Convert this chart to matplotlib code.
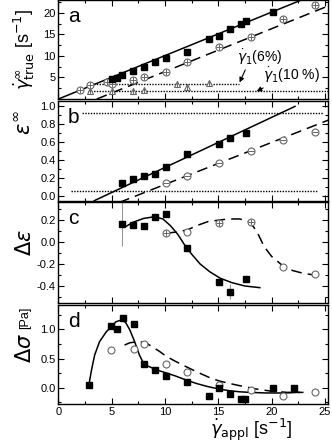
import matplotlib
matplotlib.use("Agg")
import matplotlib.pyplot as plt
from matplotlib.ticker import MultipleLocator, FixedLocator, FormatStrFormatter

plt.rcParams["font.family"] = ["Liberation Sans", "DejaVu Sans"]
plt.rcParams["mathtext.fontset"] = "dejavusans"

# ── panel a : true shear rate ───────────────────────────────────
a_sq_x = [5.0, 5.5, 6.0, 7.0, 8.0, 9.05, 10.05, 12.1, 14.1, 15.1, 16.1, 17.1, 17.6, 20.15]
a_sq_y = [4.7, 4.9, 5.5, 6.5, 7.4, 8.7, 9.5, 11.0, 14.0, 14.6, 16.3, 17.4, 18.2, 20.3]
a_ci_x = [2.0, 3.0, 4.6, 5.0, 7.0, 8.0, 10.05, 12.1, 15.1, 18.1, 21.1, 24.06]
a_ci_y = [2.2, 3.2, 4.0, 3.6, 4.4, 5.0, 6.2, 8.5, 12.1, 14.4, 18.7, 21.9]
a_tr_x = [3.0, 5.0, 7.0, 8.0, 11.1, 12.1, 14.1]
a_tr_y = [1.8, 1.8, 1.8, 2.2, 3.6, 2.9, 3.8]
a_yticks = [5, 10, 15, 20]
a_fit_solid = ([0.0, 23.0], [0.0, 23.2])
a_fit_dash = ([3.6, 25.3], [0.0, 21.6])
a_dot6 = ([2.8, 16.9], [3.5, 3.5])
a_dot10 = ([2.8, 25.3], [1.8, 1.8])

# ── panel b : strain ────────────────────────────────────────────
b_sq_x = [6.0, 7.0, 8.0, 9.05, 10.05, 12.1, 15.1, 16.1, 17.6]
b_sq_y = [0.15, 0.195, 0.225, 0.25, 0.32, 0.47, 0.58, 0.65, 0.70]
b_ci_x = [10.05, 12.1, 15.1, 18.1, 21.1, 24.06]
b_ci_y = [0.15, 0.225, 0.375, 0.505, 0.63, 0.72]
b_fit_solid = ([3.36, 22.2], [-0.05, 1.0])
b_fit_dash = ([5.7, 25.6], [-0.07, 0.86])
b_dot_hi = ([2.2, 24.8], [0.93, 0.93])
b_dot_lo = ([1.2, 24.4], [0.06, 0.06])

# ── panel c : delta epsilon ────────────────────────────────────
c_sq_x = [6.0, 7.0, 8.0, 9.05, 10.05, 12.1, 15.1, 16.1, 17.6]
c_sq_y = [0.165, 0.155, 0.145, 0.225, 0.255, -0.05, -0.36, -0.45, -0.34]
c_sq_err = [0.2, 0, 0, 0, 0, 0, 0, 0.065, 0]
c_cp_x = [10.05, 15.1, 18.1]
c_cp_y = [0.08, 0.17, 0.185]
c_ci_x = [12.1, 21.1, 24.06]
c_ci_y = [0.095, -0.225, -0.29]
c_curve_solid_x = [6.3, 7.0, 8.0, 9.0, 9.8, 10.5, 11.2, 11.8, 12.5, 13.3, 14.2, 15.2, 16.3, 17.5, 18.9]
c_curve_solid_y = [0.14, 0.18, 0.215, 0.23, 0.21, 0.15, 0.07, -0.02, -0.11, -0.2, -0.27, -0.33, -0.37, -0.40, -0.415]
c_curve_dash_x = [10.1, 11.0, 12.1, 13.0, 14.0, 15.1, 16.0, 17.0, 17.8, 18.3, 18.8, 19.3, 20.0,
                  21.1, 22.0, 23.0, 24.0, 24.9]
c_curve_dash_y = [0.08, 0.09, 0.11, 0.15, 0.185, 0.2, 0.21, 0.21, 0.19, 0.14, 0.06, -0.04, -0.13,
                  -0.22, -0.26, -0.285, -0.30, -0.31]

# ── panel d : delta sigma ──────────────────────────────────────
d_sq_x = [2.86, 4.95, 5.5, 6.05, 7.05, 8.0, 9.05, 10.05, 12.1, 14.1, 15.1, 16.1, 17.1, 17.5, 20.15, 22.1]
d_sq_y = [0.05, 1.06, 1.0, 1.2, 1.1, 0.40, 0.30, 0.20, 0.10, -0.15, 0.0, -0.10, -0.20, -0.20, 0.0, 0.0]
d_ci_x = [4.95, 7.05, 8.0, 10.05, 12.1, 15.1, 18.1, 21.1, 24.06]
d_ci_y = [0.645, 0.66, 0.75, 0.40, 0.265, 0.045, -0.04, -0.15, -0.08]
d_ci_err = [0, 0, 0, 0.06, 0, 0, 0, 0, 0]
d_curve_solid_x = [2.86, 3.1, 3.4, 3.86, 4.5, 4.95, 5.4, 5.9, 6.3, 6.7, 7.15, 7.6, 7.9, 8.4, 9.3,
                   10.0, 11.0, 12.0, 13.0, 14.0, 15.0, 16.0, 17.0, 18.0, 19.5, 21.0, 22.6]
d_curve_solid_y = [0.05, 0.30, 0.56, 0.79, 0.96, 1.04, 1.13, 1.16, 1.12, 0.99, 0.79, 0.56, 0.45, 0.37, 0.30,
                   0.26, 0.20, 0.13, 0.07, 0.02, -0.02, -0.05, -0.07, -0.08, -0.09, -0.09, -0.08]
d_curve_dash_x = [6.2, 6.7, 7.5, 8.2, 8.9, 9.5, 10.1, 11.0, 12.1, 13.0, 14.1, 15.0, 16.0, 17.0,
                  18.5, 20.0, 21.5, 23.0]
d_curve_dash_y = [0.73, 0.77, 0.79, 0.77, 0.69, 0.62, 0.54, 0.45, 0.35, 0.27, 0.18, 0.12, 0.075, 0.035,
                  -0.02, -0.06, -0.08, -0.08]

GRAY = "#666666"
DASH = (0, (7, 4))
DOT = (0, (1, 1))
SQ = dict(marker="s", ms=4.5, color="black", ls="none", zorder=4)


def open_pts(ax, x, y, marker="o", inner=None, ms=5):
    ax.plot(x, y, ls="none", marker=marker, ms=ms, mfc="white", mec=GRAY, mew=0.8, zorder=3)
    if inner:
        ax.plot(x, y, ls="none", marker=inner, ms=ms, mec=GRAY, mew=0.7, zorder=3)


def style(ax, ylim, major, minor, last=False):
    ax.set_xlim(0, 25.3)
    ax.set_ylim(*ylim)
    ax.xaxis.set_major_locator(MultipleLocator(5))
    ax.xaxis.set_minor_locator(MultipleLocator(2.5))
    ax.yaxis.set_major_locator(MultipleLocator(major))
    ax.yaxis.set_minor_locator(MultipleLocator(minor))
    ax.tick_params(which="both", direction="in", top=True, right=True, labelsize=8, pad=2)
    ax.tick_params(which="major", length=4, width=0.8)
    ax.tick_params(which="minor", length=2, width=0.8)
    if not last:
        ax.tick_params(labelbottom=False)
    for s in ax.spines.values():
        s.set_linewidth(1.0)


fig = plt.figure(figsize=(3.32, 4.45), dpi=100)
L, W = 0.176, 0.812
ax_a = fig.add_axes([L, 0.7775, W, 0.2225])
ax_b = fig.add_axes([L, 0.549, W, 0.224])
ax_c = fig.add_axes([L, 0.319, W, 0.227])
ax_d = fig.add_axes([L, 0.092, W, 0.223])

# a
ax = ax_a
ax.plot(*a_fit_solid, color="black", lw=1.1)
ax.plot(*a_fit_dash, color="black", lw=1.1, ls=DASH)
ax.plot(*a_dot6, color="black", lw=1.0, ls=DOT)
ax.plot(*a_dot10, color="black", lw=1.0, ls=DOT)
open_pts(ax, a_ci_x, a_ci_y, "o", "+")
open_pts(ax, a_tr_x, a_tr_y, "^", "|", ms=5)
ax.plot(a_sq_x, a_sq_y, **SQ)
ax.annotate(r"$\dot{\gamma}_1$(6%)", xy=(17.0, 3.85), xytext=(16.8, 9.7), fontsize=10,
            va="center", arrowprops=dict(arrowstyle="-|>", color="black", lw=0.8,
                                         mutation_scale=7, shrinkA=0, shrinkB=0,
                                         relpos=(0.2, 0.0)))
ax.annotate(r"$\dot{\gamma}_1$(10 %)", xy=(18.6, 1.8), xytext=(19.2, 5.5), fontsize=10,
            va="center", arrowprops=dict(arrowstyle="-|>", color="black", lw=0.8,
                                         mutation_scale=7, shrinkA=0, shrinkB=0,
                                         relpos=(0.1, 0.0)))
style(ax, (0, 23), 5, 2.5)
ax.yaxis.set_major_locator(FixedLocator(a_yticks))
ax.text(-0.125, 0.5, r"$\dot{\gamma}^{\infty}_{\rm true}$ [s$^{-1}$]", transform=ax.transAxes,
        rotation=90, ha="center", va="center", fontsize=13)

# b
ax = ax_b
ax.plot(*b_fit_solid, color="black", lw=1.1)
ax.plot(*b_fit_dash, color="black", lw=1.1, ls=DASH)
ax.plot(*b_dot_hi, color="black", lw=1.0, ls=DOT)
ax.plot(*b_dot_lo, color="black", lw=1.0, ls=DOT)
open_pts(ax, b_ci_x, b_ci_y, "o", "_")
ax.plot(b_sq_x, b_sq_y, **SQ)
style(ax, (-0.05, 1.06), 0.2, 0.1)
ax.yaxis.set_major_formatter(FormatStrFormatter("%.1f"))
ax.text(-0.125, 0.78, r"$\epsilon^{\infty}$", transform=ax.transAxes,
        rotation=90, ha="center", va="center", fontsize=15)

# c
ax = ax_c
ax.plot(c_curve_solid_x, c_curve_solid_y, color="black", lw=1.1)
ax.plot(c_curve_dash_x, c_curve_dash_y, color="black", lw=1.1, ls=DASH)
ax.errorbar(c_sq_x, c_sq_y, yerr=c_sq_err, fmt="none", ecolor="#999999", elinewidth=0.8, zorder=2)
open_pts(ax, c_cp_x, c_cp_y, "o", "+")
open_pts(ax, c_ci_x, c_ci_y, "o")
ax.plot(c_sq_x, c_sq_y, **SQ)
style(ax, (-0.555, 0.364), 0.2, 0.1)
ax.yaxis.set_major_formatter(FormatStrFormatter("%.1f"))
ax.text(-0.125, 0.6, r"$\Delta\epsilon$", transform=ax.transAxes,
        rotation=90, ha="center", va="center", fontsize=15)

# d
ax = ax_d
ax.plot(d_curve_solid_x, d_curve_solid_y, color="black", lw=1.1)
ax.plot(d_curve_dash_x, d_curve_dash_y, color="black", lw=1.1, ls=DASH)
ax.errorbar(d_ci_x, d_ci_y, yerr=d_ci_err, fmt="none", ecolor="#999999", elinewidth=0.8, zorder=2)
open_pts(ax, d_ci_x, d_ci_y, "o")
ax.plot(d_sq_x, d_sq_y, **SQ)
style(ax, (-0.28, 1.42), 0.5, 0.25, last=True)
ax.yaxis.set_major_formatter(FormatStrFormatter("%.1f"))
ax.text(-0.125, 0.57, r"$\Delta\sigma$", transform=ax.transAxes,
        rotation=90, ha="center", va="center", fontsize=15)
ax.text(-0.125, 0.87, "[Pa]", transform=ax.transAxes,
        rotation=90, ha="center", va="center", fontsize=9)

fig.text(251 / 332, 1 - 430 / 445, r"$\dot{\gamma}_{\rm appl}$ [s$^{-1}$]",
         ha="center", va="center", fontsize=13)

for ax, lab in zip([ax_a, ax_b, ax_c, ax_d], "abcd"):
    ax.text(0.035, 0.93, lab, transform=ax.transAxes, fontsize=15, ha="left", va="top")

fig.savefig("out.png", dpi=100)
